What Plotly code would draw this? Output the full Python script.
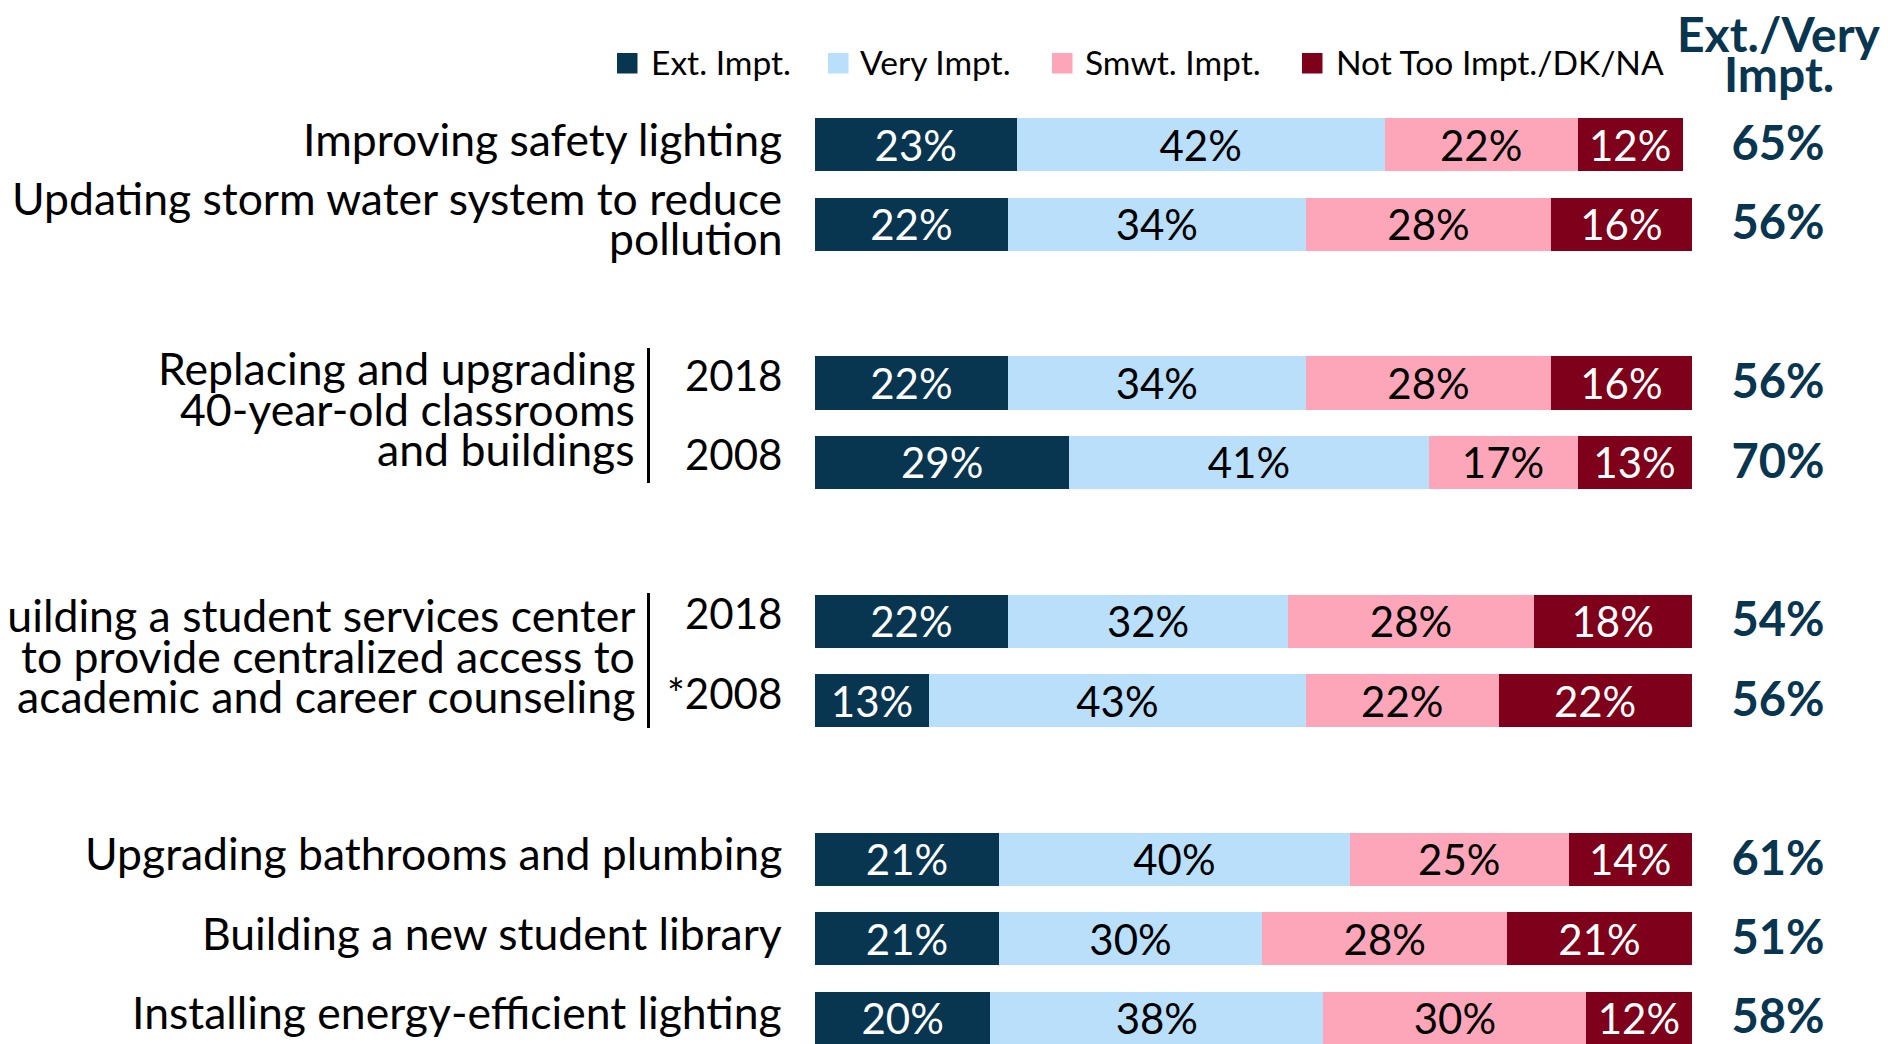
import plotly.graph_objects as go

# ---------------- data ----------------
row_labels = [
    "Improving safety lighting",
    "Updating storm water system to reduce<br>pollution",
    "2018",
    "2008",
    "2018",
    "*2008",
    "Upgrading bathrooms and plumbing",
    "Building a new student library",
    "Installing energy-efficient lighting",
]
row_is_year = [False, False, True, True, True, True, False, False, False]
row_slots = [0, 1, 3, 4, 6, 7, 9, 10, 11]
series_names = ["Ext. Impt.", "Very Impt.", "Smwt. Impt.", "Not Too Impt./DK/NA"]
ext_impt = [23, 22, 22, 29, 22, 13, 21, 21, 20]
very_impt = [42, 34, 34, 41, 32, 43, 40, 30, 38]
smwt_impt = [22, 28, 28, 17, 28, 22, 25, 28, 30]
not_too = [12, 16, 16, 13, 18, 22, 14, 21, 12]
ext_very_total = [65, 56, 56, 70, 54, 56, 61, 51, 58]
group_labels = [
    "Replacing and upgrading<br>40-year-old classrooms<br>and buildings",
    "Building a student services center<br>to provide centralized access to<br>academic and career counseling",
]
header_lines = ["Ext./Very", "Impt."]

# ---------------- style / layout constants ----------------
NAVY = "#08354f"
LIGHT = "#b9dffb"
PINK = "#fda6b9"
RED = "#7e001a"
colors = [NAVY, LIGHT, PINK, RED]
text_colors = ["white", "black", "black", "white"]
FONT = "Lato"

PAGE_OFF = 8                      # default body margin of the html page
W, H = 1888 - PAGE_OFF, 1044 - PAGE_OFF
X0_PX, X_SCALE = 815.0, 8.765     # screen pixel of 0 %, pixels per %
Y0_PX, Y_SCALE = 144.8, 79.4      # screen pixel of slot 0, pixels per slot
LINE_GAP = 40.5                   # label line spacing (px)


def xd(px):
    return (px - X0_PX) / X_SCALE


def yd(px):
    return (px - Y0_PX) / Y_SCALE


def ypx(slot):
    return Y0_PX + slot * Y_SCALE


fig = go.Figure()
for name, vals, col, tcol in zip(series_names, [ext_impt, very_impt, smwt_impt, not_too], colors, text_colors):
    fig.add_trace(go.Bar(
        name=name, orientation="h", y=row_slots, x=vals, width=0.672,
        marker=dict(color=col, line=dict(width=0)),
        text=[f"{v}%" for v in vals], textposition="inside", insidetextanchor="middle",
        textangle=0, constraintext="none",
        textfont=dict(family=FONT, size=42, color=tcol),
        showlegend=False, hoverinfo="skip",
    ))

# Ext./Very totals column (nudged ~3.5px down to sit like the reference)
fig.add_trace(go.Scatter(
    x=[xd(1778)] * len(row_slots), y=[s + 3.5 / Y_SCALE for s in row_slots], mode="text",
    text=[f"<b>{t}%</b>" for t in ext_very_total],
    textposition="middle center",
    textfont=dict(family=FONT, size=47, color=NAVY),
    showlegend=False, hoverinfo="skip",
))

annotations = []
shapes = []

# header
for line, py in zip(header_lines, [33, 73]):
    annotations.append(dict(x=xd(1779), y=yd(py), text=f"<b>{line}</b>", showarrow=False,
                            xanchor="center", yanchor="middle",
                            font=dict(family=FONT, size=48, color=NAVY)))

# legend (manual squares + labels)
legend_sq_px = [617, 828, 1052, 1302]
legend_txt_px = [649, 858, 1083, 1334]
for name, col, sx, tx in zip(series_names, colors, legend_sq_px, legend_txt_px):
    shapes.append(dict(type="rect", xref="x", yref="y", x0=xd(sx), x1=xd(sx + 20.5),
                       y0=yd(53), y1=yd(73.5), fillcolor=col, line=dict(width=0)))
    annotations.append(dict(x=xd(tx), y=yd(62), text=name, showarrow=False,
                            xanchor="left", yanchor="middle",
                            font=dict(family=FONT, size=33.6, color="black")))

# row labels (one annotation per line for tight line spacing)
for lab, slot, is_year in zip(row_labels, row_slots, row_is_year):
    lines = lab.split("<br>")
    center = ypx(slot) - (8 if is_year else 6.5)
    for i, ln in enumerate(lines):
        cy = center + (i - (len(lines) - 1) / 2) * LINE_GAP
        annotations.append(dict(x=xd(783.5), y=yd(cy), text=ln, showarrow=False,
                                xanchor="right", yanchor="middle",
                                font=dict(family=FONT, size=42 if is_year else 44.5, color="black")))

# group labels and brackets
for lab, cy, (ly0, ly1) in zip(group_labels, [408, 655], [(348, 483), (593, 728)]):
    lines = lab.split("<br>")
    for i, ln in enumerate(lines):
        ly = cy + (i - (len(lines) - 1) / 2) * LINE_GAP
        annotations.append(dict(x=xd(636.5), y=yd(ly), text=ln, showarrow=False,
                                xanchor="right", yanchor="middle",
                                font=dict(family=FONT, size=44.6, color="black")))
    shapes.append(dict(type="line", xref="x", yref="y", x0=xd(648.5), x1=xd(648.5),
                       y0=yd(ly0), y1=yd(ly1), line=dict(color="black", width=3)))

fig.update_layout(
    width=W, height=H, barmode="stack",
    margin=dict(l=0, r=0, t=0, b=0),
    paper_bgcolor="white", plot_bgcolor="white",
    uniformtext=dict(minsize=42, mode="show"),
    annotations=annotations, shapes=shapes,
    xaxis=dict(range=[xd(PAGE_OFF), xd(PAGE_OFF + W)], visible=False, fixedrange=True),
    yaxis=dict(range=[yd(PAGE_OFF + H), yd(PAGE_OFF)], visible=False, fixedrange=True),
)

fig.write_html("out.html")
